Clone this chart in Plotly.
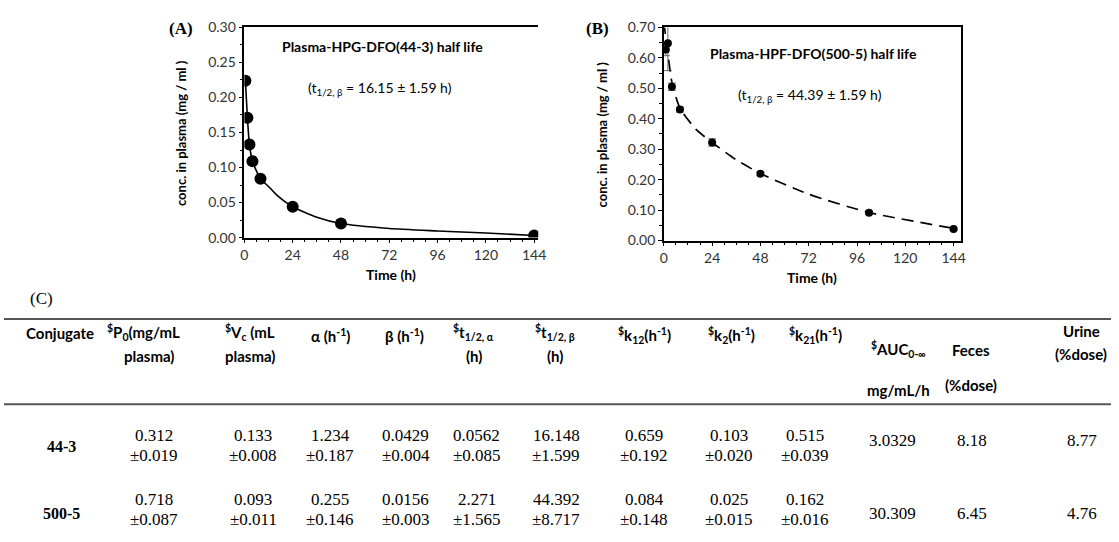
import plotly.graph_objects as go

W, H = 1119, 542

# ---------------- Panel A data (HPG-DFO 44-3) ----------------
time_a = [0.5, 1.5, 2.5, 4, 8, 24, 48, 144]
conc_a = [0.224, 0.171, 0.133, 0.109, 0.084, 0.044, 0.020, 0.003]
fit_time_a = [0.5, 1.5, 2.5, 4, 8, 12, 16, 24, 36, 48, 72, 96, 120, 144]
fit_conc_a = [0.224, 0.171, 0.133, 0.109, 0.084, 0.073, 0.061, 0.044, 0.029, 0.020, 0.013, 0.0095, 0.0065, 0.003]

# ---------------- Panel B data (HPF-DFO 500-5) ----------------
time_b = [1, 2, 4, 8, 24, 48, 102, 144]
conc_b = [0.627, 0.648, 0.505, 0.430, 0.322, 0.219, 0.091, 0.038]
err_b = [0.02, 0.09, 0.012, 0.008, 0.012, 0.006, 0.005, 0.004]
fit_time_b = [0, 1, 2, 4, 8, 16, 24, 36, 48, 72, 102, 144]
fit_conc_b = [0.718, 0.665, 0.615, 0.520, 0.435, 0.365, 0.322, 0.265, 0.220, 0.152, 0.092, 0.040]

# ---------------- Table (C) ----------------
header_line1 = ["Conjugate", "<sup>$</sup>P<sub>0</sub>(mg/mL", "<sup>$</sup>V<sub>c</sub> (mL",
                "α (h<sup>-1</sup>)", "β (h<sup>-1</sup>)", "<sup>$</sup>t<sub>1/2, α</sub>",
                "<sup>$</sup>t<sub>1/2, β</sub>", "<sup>$</sup>k<sub>12</sub>(h<sup>-1</sup>)",
                "<sup>$</sup>k<sub>2</sub>(h<sup>-1</sup>)", "<sup>$</sup>k<sub>21</sub>(h<sup>-1</sup>)",
                "<sup>$</sup>AUC<sub>0-∞</sub>", "Feces", "Urine"]
header_line2 = ["", "plasma)", "plasma)", "", "", "(h)", "(h)", "", "", "", "mg/mL/h", "(%dose)", "(%dose)"]
conjugates = ["44-3", "500-5"]
means_44_3 = ["0.312", "0.133", "1.234", "0.0429", "0.0562", "16.148", "0.659", "0.103", "0.515"]
sds_44_3 = ["±0.019", "±0.008", "±0.187", "±0.004", "±0.085", "±1.599", "±0.192", "±0.020", "±0.039"]
means_500_5 = ["0.718", "0.093", "0.255", "0.0156", "2.271", "44.392", "0.084", "0.025", "0.162"]
sds_500_5 = ["±0.087", "±0.011", "±0.146", "±0.003", "±1.565", "±8.717", "±0.148", "±0.015", "±0.016"]
auc = ["3.0329", "30.309"]
feces = ["8.18", "6.45"]
urine = ["8.77", "4.76"]

# layout helpers (pixel -> paper)
def px(x):
    return x / W

def py(y):
    return 1 - y / H

SANS = "Lato, 'Open Sans', sans-serif"
SERIF = "'Liberation Serif', 'DejaVu Serif', serif"

fig = go.Figure()

# Panel A
fig.add_trace(go.Scatter(x=fit_time_a, y=fit_conc_a, mode="lines",
                         line=dict(color="black", width=1.6, shape="spline", smoothing=0.6),
                         xaxis="x", yaxis="y", showlegend=False, hoverinfo="skip"))
fig.add_trace(go.Scatter(x=time_a, y=conc_a, mode="markers", marker=dict(color="black", size=12),
                         xaxis="x", yaxis="y", showlegend=False))

# Panel B
fig.add_trace(go.Scatter(x=fit_time_b, y=fit_conc_b, mode="lines",
                         line=dict(color="black", width=1.7, dash="12px,7px", shape="spline", smoothing=0.6),
                         xaxis="x2", yaxis="y2", showlegend=False, hoverinfo="skip"))
fig.add_trace(go.Scatter(x=time_b, y=conc_b, mode="markers", marker=dict(color="black", size=8),
                         error_y=dict(type="data", array=err_b, color="#444", thickness=0.8, width=4),
                         xaxis="x2", yaxis="y2", showlegend=False))

axis_common = dict(showgrid=False, zeroline=False, showline=True, linecolor="black", linewidth=1.5,
                   ticks="outside", ticklen=4, tickwidth=1, tickcolor="black",
                   tickfont=dict(family=SANS, size=14, color="#333"))

fig.update_layout(
    width=W, height=H, margin=dict(l=0, r=0, t=0, b=0),
    paper_bgcolor="white", plot_bgcolor="white",
    xaxis=dict(domain=[px(243), px(540)], range=[0, 146], dtick=24, tick0=0, mirror=True,
               minor=dict(dtick=6, ticks="outside", ticklen=3, tickcolor="black"), anchor="y", **axis_common),
    yaxis=dict(domain=[py(236), py(19)], range=[0, 0.30], dtick=0.05, tickformat=".2f",
               minor=dict(dtick=0.025, ticks="outside", ticklen=3, tickcolor="black"), anchor="x", **axis_common),
    xaxis2=dict(domain=[px(667), px(967)], range=[0, 147.5], dtick=24, tick0=0, mirror=True,
                minor=dict(dtick=6, ticks="outside", ticklen=3, tickcolor="black"), anchor="y2", **axis_common),
    yaxis2=dict(domain=[py(239), py(19)], range=[0, 0.70], dtick=0.1, tickformat=".2f", mirror=True,
                minor=dict(dtick=0.05, ticks="outside", ticklen=3, tickcolor="black"), anchor="x2", **axis_common),
)

ann = []

def add_text(x, y, text, size=13, bold=False, family=SANS, color="black", angle=0, xanchor="center"):
    t = f"<b>{text}</b>" if bold else text
    ann.append(dict(x=px(x), y=py(y), xref="paper", yref="paper", text=t, showarrow=False,
                    xanchor=xanchor, yanchor="middle", textangle=angle,
                    font=dict(family=family, size=size, color=color)))

# panel labels
add_text(179, 20, "(A)", size=17, bold=True, family=SERIF)
add_text(600, 20, "(B)", size=17, bold=True, family=SERIF)
add_text(38, 299, "(C)", size=17, family=SERIF)

# panel titles and half-life notes
add_text(383, 39, "Plasma-HPG-DFO(44-3) half life", size=14, bold=True)
add_text(380, 82, "(t<sub>1/2, β</sub> = 16.15 ± 1.59 h)", size=14)
add_text(818, 46, "Plasma-HPF-DFO(500-5) half life", size=14, bold=True)
add_text(815, 89, "(t<sub>1/2, β</sub> = 44.39 ± 1.59 h)", size=14)

# axis titles
add_text(179, 128, "conc. in plasma (mg / ml )", size=13, bold=True, angle=-90)
add_text(604, 130, "conc. in plasma (mg / ml )", size=13, bold=True, angle=-90)
add_text(391, 274, "Time (h)", size=14, bold=True)
add_text(817, 277, "Time (h)", size=14, bold=True)

# table header
head_x = [57, 141, 249, 330, 405, 475, 557, 647, 735, 820, 904, 977, 1089]
line1_y = [334, 334, 334, 337, 337, 334, 334, 337, 337, 337, 352, 352, 332]
line2_y = [None, 358, 358, None, None, 358, 358, None, None, None, 393, 388, 356]
for i, (h1, h2) in enumerate(zip(header_line1, header_line2)):
    add_text(head_x[i], line1_y[i], h1, size=15, bold=True)
    if h2:
        add_text(head_x[i] + (6 if i == 1 else 0), line2_y[i], h2, size=15, bold=True)

# table body
val_x = [58, 152, 252, 330, 406, 478, 558, 647, 733, 810, 898, 978, 1090]
row_label_y = [452, 521]
row_mean_y = [440, 506]
row_sd_y = [461, 527]
row_single_y = [445, 521]
rows_means = [means_44_3, means_500_5]
rows_sds = [sds_44_3, sds_500_5]
for r in range(2):
    add_text(val_x[0], row_label_y[r], conjugates[r], size=16, bold=True, family=SERIF)
    for j in range(9):
        add_text(val_x[j + 1], row_mean_y[r], rows_means[r][j], size=17, family=SERIF)
        add_text(val_x[j + 1], row_sd_y[r], rows_sds[r][j], size=17, family=SERIF)
    add_text(val_x[10], row_single_y[r], auc[r], size=17, family=SERIF)
    add_text(val_x[11], row_single_y[r], feces[r], size=17, family=SERIF)
    add_text(val_x[12], row_single_y[r], urine[r], size=17, family=SERIF)

fig.update_layout(annotations=ann)

# table rules (thin filled bands)
for yy in (320, 408):
    fig.add_shape(type="rect", xref="paper", yref="paper", x0=0, x1=1,
                  y0=py(yy + 1), y1=py(yy - 1), fillcolor="#555", line=dict(width=0), layer="above")

fig.write_html("out.html", config={"displayModeBar": False},
               post_script="document.body.style.margin='0px';")
